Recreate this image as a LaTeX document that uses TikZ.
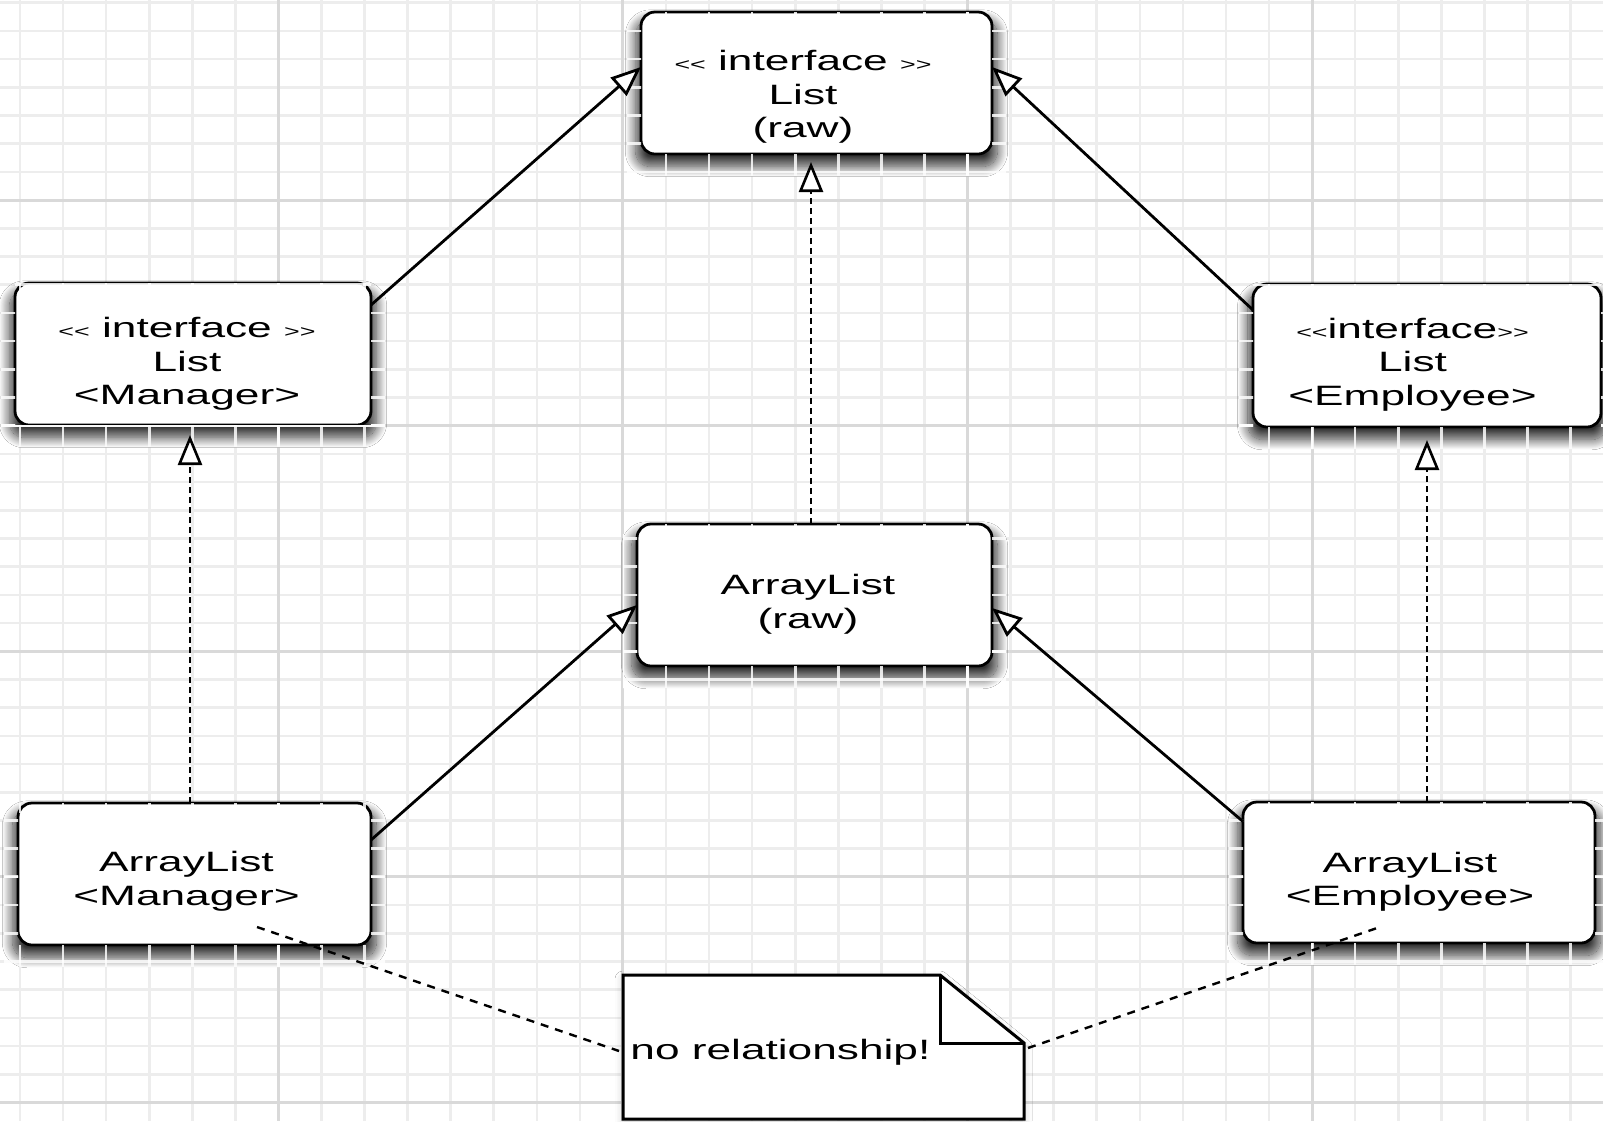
\documentclass[tikz,border=0pt]{standalone}
\usepackage{fontspec}
\newfontfamily\umlfont[FakeStretch=1.58]{Liberation Sans}
\usetikzlibrary{arrows.meta,shadows.blur,calc}
\newcommand\smchev[1]{{\fontsize{8.5}{8.5}\selectfont #1}}
\newcommand\drawgridlines[2]{%
  \foreach \i in {0,...,37}{\draw[#1] ({20+43.07*\i},0) -- ({20+43.07*\i},1121);}%
  \foreach \j in {0,...,39}{\draw[#1] (0,{2.6+28.2*\j}) -- (1603,{2.6+28.2*\j});}%
  \foreach \i in {0,...,3}{\draw[#2] ({278.4+344.56*\i},0) -- ({278.4+344.56*\i},1121);}%
  \foreach \j in {0,...,4}{\draw[#2] (0,{200+225.6*\j}) -- (1603,{200+225.6*\j});}%
}
\newcommand\shadowgrid[1]{%
  \begin{scope}[even odd rule]
    \clip ([xshift=-7pt,yshift=-11pt]#1.south west) rectangle ([xshift=7pt,yshift=-5pt]#1.north east)
      (#1.south west) rectangle (#1.north east);
    \drawgridlines{line width=1.3pt, white, opacity=0.85}{line width=1.5pt, white, opacity=0.85}
  \end{scope}}
\begin{document}
\begin{tikzpicture}[x=0.5pt, y=-0.5pt,
  minorline/.style={line width=1.3pt, black!7},
  majorline/.style={line width=1.5pt, black!15},
  umlbox/.style={draw=black, line width=1.4pt, rounded corners=7pt, fill=white,
    inner sep=0pt, outer sep=0pt,
    blur shadow={shadow xshift=0pt, shadow yshift=-5pt, shadow blur radius=5pt, shadow blur steps=20, shadow opacity=80, shadow scale=1.03}},
  txt/.style={font=\umlfont\fontsize{14}{16.75}\selectfont, align=center, inner sep=0pt},
  impl/.style={line width=1.3pt, dash pattern=on 3pt off 2pt, -{Triangle[open, fill=white, length=15pt, width=12pt]}},
  inherit/.style={line width=1.4pt, -{Triangle[open, fill=white, length=15pt, width=12pt]}},
  notelink/.style={line width=1.2pt, dash pattern=on 4pt off 3.5pt},
  noteline/.style={line width=1.5pt, line join=miter}
]
\useasboundingbox (0,0) rectangle (1603,1121);
\clip (0,0) rectangle (1603,1121);
\fill[white] (0,0) rectangle (1603,1121);
\drawgridlines{minorline}{majorline}

% boxes
\node[umlbox, minimum width=175.5pt, minimum height=71pt] (rawlist) at (816.5,83) {};
\node[umlbox, minimum width=178pt, minimum height=71pt] (mgrlist) at (193,354) {};
\node[umlbox, minimum width=174pt, minimum height=71.5pt] (emplist) at (1427,355.5) {};
\node[umlbox, minimum width=177.5pt, minimum height=71pt] (rawarray) at (814.5,595) {};
\node[umlbox, minimum width=176.5pt, minimum height=71pt] (mgrarray) at (194.5,874) {};
\node[umlbox, minimum width=176pt, minimum height=70.5pt] (emparray) at (1419,872.5) {};

\shadowgrid{rawlist}
\shadowgrid{mgrlist}
\shadowgrid{emplist}
\shadowgrid{rawarray}
\shadowgrid{mgrarray}
\shadowgrid{emparray}

% texts
\node[txt] (rawlist-t) at ([xshift=-6.75pt,yshift=-7pt]rawlist.center) {\smchev{<<} interface \smchev{>>}\\List\\(raw)};
\node[txt] (mgrlist-t) at ([xshift=-3pt,yshift=-5pt]mgrlist.center) {\smchev{<<} interface \smchev{>>}\\List\\<Manager>};
\node[txt] (emplist-t) at ([xshift=-7.25pt,yshift=-4.5pt]emplist.center) {\smchev{<<}interface\smchev{>>}\\List\\<Employee>};
\node[txt] (rawarray-t) at ([xshift=-3.25pt,yshift=-4.6pt]rawarray.center) {ArrayList\\(raw)};
\node[txt] (mgrarray-t) at ([xshift=-4pt,yshift=-3.6pt]mgrarray.center) {ArrayList\\<Manager>};
\node[txt] (emparray-t) at ([xshift=-4.5pt,yshift=-4.6pt]emparray.center) {ArrayList\\<Employee>};

% connectors
\draw[inherit] ([yshift=24.5pt]mgrlist.east) -- ([yshift=8pt]rawlist.west);
\draw[inherit] ([yshift=22.75pt]emplist.west) -- ([yshift=8pt]rawlist.east);
\draw[impl] ([xshift=-1.75pt]rawarray.north) -- ([xshift=-2.75pt,yshift=-4pt]rawlist.south);
\draw[impl] ([xshift=-2.25pt]mgrarray.north) -- ([xshift=-1.5pt,yshift=-5pt]mgrlist.south);
\draw[impl] ([xshift=4pt]emparray.north) -- ([yshift=-6.5pt]emplist.south);
\draw[inherit] ([yshift=17pt]mgrarray.east) -- ([yshift=-5pt]rawarray.west);
\draw[inherit] ([yshift=25.5pt]emparray.west) -- ([yshift=-6.5pt]rawarray.east);

% note
\node[minimum width=200.5pt, minimum height=72pt, inner sep=0pt, outer sep=0pt] (note) at (823.5,1047) {};
\draw[notelink] ([xshift=31.25pt,yshift=9pt]mgrarray.south) -- ([xshift=-2pt,yshift=-2pt]note.west);
\draw[notelink] ([xshift=2pt,yshift=-0.5pt]note.east) -- ([xshift=-19.5pt,yshift=8pt]emparray.south);
\draw[noteline, fill=white, blur shadow={shadow xshift=0pt, shadow yshift=-2pt, shadow blur radius=4pt, shadow opacity=20}]
  (note.north west) -- ([xshift=-42pt]note.north east) -- ([yshift=-34pt]note.north east)
  -- (note.south east) -- (note.south west) -- cycle;
\draw[noteline] ([xshift=-42pt]note.north east) |- ([yshift=-34pt]note.north east);
\node[txt, anchor=base west] (note-t) at ([xshift=3.5pt,yshift=-6pt]note.west) {no relationship!};
\end{tikzpicture}
\end{document}
